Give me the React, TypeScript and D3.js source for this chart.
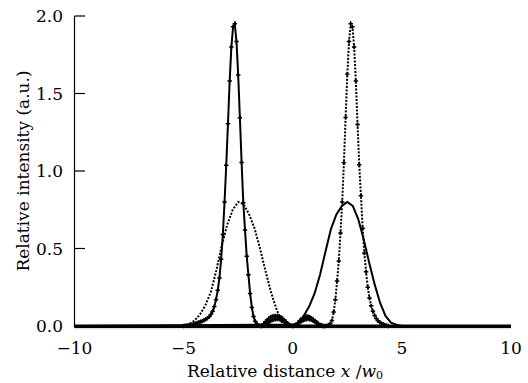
import React from "react";
import * as d3 from "d3";

// Sampling grid of the simulation: 256 steps over [-10, 10]
const X_DOMAIN: [number, number] = [-10, 10];
const GRID_STEPS = 256;
const Y_TICKS = [0, 0.5, 1.0, 1.5, 2.0];
const X_TICKS = [-10, -5, 0, 5, 10];

// Narrow beam, solid with markers (values start at grid index 64)
const narrowSolidStart = 64;
const narrowSolidValues = [
  0, 0.001, 0.002, 0.004, 0.006, 0.009, 0.012, 0.016, 0.02, 0.024,
  0.028, 0.032, 0.037, 0.043, 0.05, 0.06, 0.075, 0.095, 0.125, 0.17,
  0.23, 0.31, 0.43, 0.59, 0.8, 1.037, 1.305, 1.58, 1.8, 1.93,
  1.95, 1.835, 1.62, 1.344, 1.055, 0.795, 0.62, 0.45, 0.33, 0.21,
  0.12, 0.062, 0.03, 0.012, 0.003, 0, 0.005, 0.015, 0.027, 0.038,
  0.048, 0.056, 0.061, 0.064, 0.065, 0.064, 0.061, 0.056, 0.048, 0.038,
  0.027, 0.016, 0.007, 0.002, 0, 0.003, 0.01, 0.02, 0.032, 0.044,
  0.054, 0.06, 0.062, 0.061, 0.057, 0.05, 0.042, 0.033, 0.024, 0.015,
  0.008, 0.003, 0,
];

// Narrow beam, dotted with markers (values start at grid index 110)
const narrowDottedStart = 110;
const narrowDottedValues = [
  0, 0.003, 0.009, 0.017, 0.025, 0.032, 0.038, 0.042, 0.044, 0.045,
  0.044, 0.041, 0.036, 0.029, 0.021, 0.013, 0.006, 0.002, 0, 0.002,
  0.007, 0.014, 0.022, 0.03, 0.036, 0.041, 0.044, 0.045, 0.044, 0.04,
  0.034, 0.027, 0.019, 0.011, 0.005, 0.001, 0, 0, 0.002, 0.006,
  0.015, 0.035, 0.09, 0.17, 0.29, 0.42, 0.6, 0.8, 1.053, 1.346,
  1.625, 1.835, 1.95, 1.93, 1.8, 1.58, 1.3, 1.04, 0.84, 0.63,
  0.47, 0.35, 0.25, 0.18, 0.13, 0.095, 0.068, 0.048, 0.034, 0.024,
  0.017, 0.012, 0.007, 0.003, 0,
];

// Broad beam, dotted (no markers)
const broadDottedX = [
  -5.25, -5.0, -4.75, -4.5, -4.25, -4.0, -3.75, -3.5, -3.25, -3.0, -2.75,
  -2.5, -2.25, -2.0, -1.75, -1.5, -1.25, -1.0, -0.75, -0.5, -0.25,
];
const broadDottedY = [
  0, 0.003, 0.012, 0.035, 0.075, 0.135, 0.22, 0.36, 0.52, 0.655, 0.75,
  0.8, 0.785, 0.72, 0.63, 0.5, 0.355, 0.22, 0.11, 0.025, 0,
];

// Broad beam, solid (no markers)
const broadSolidX = [
  0.25, 0.5, 0.75, 1.0, 1.25, 1.5, 1.75, 2.0, 2.25, 2.5, 2.75,
  3.0, 3.25, 3.5, 3.75, 4.0, 4.25, 4.5, 4.75, 5.0,
];
const broadSolidY = [
  0.01, 0.065, 0.125, 0.21, 0.33, 0.48, 0.625, 0.72, 0.775, 0.8, 0.775,
  0.69, 0.56, 0.41, 0.27, 0.15, 0.065, 0.022, 0.008, 0,
];

type Pt = [number, number];

const gridSeries = (start: number, values: number[]): Pt[] =>
  values.map((v, k) => [
    X_DOMAIN[0] + ((start + k) * (X_DOMAIN[1] - X_DOMAIN[0])) / GRID_STEPS,
    v,
  ]);

const pairSeries = (xs: number[], ys: number[]): Pt[] =>
  xs.map((x, k) => [x, ys[k]]);

const withEnds = (pts: Pt[]): Pt[] => [
  [X_DOMAIN[0], 0],
  ...pts,
  [X_DOMAIN[1], 0],
];

export default function App() {
  const W = 528;
  const H = 383;
  const x = d3.scaleLinear().domain(X_DOMAIN).range([74.5, 511]);
  const y = d3.scaleLinear().domain([0, 2]).range([326, 16]);
  const line = d3
    .line<Pt>()
    .x((d) => x(d[0]))
    .y((d) => y(d[1]));

  const nSolid = gridSeries(narrowSolidStart, narrowSolidValues);
  const nDotted = gridSeries(narrowDottedStart, narrowDottedValues);
  const bDotted = pairSeries(broadDottedX, broadDottedY);
  const bSolid = pairSeries(broadSolidX, broadSolidY);

  const marker = d3.symbol().type(d3.symbolCross).size(11)() as string;
  const font = "'DejaVu Serif', serif";

  return (
    <svg
      width={W}
      height={H}
      style={{ position: "absolute", left: 0, top: 0, display: "block", background: "#fff" }}
      fontFamily={font}
    >
      {/* baseline band */}
      <line x1={x(-10)} x2={x(10)} y1={y(0) + 0.3} y2={y(0) + 0.3} stroke="#000" strokeWidth={3.4} />
      <line x1={x(-10)} x2={x(10)} y1={y(0) + 2.8} y2={y(0) + 2.8} stroke="#999" strokeWidth={0.8} strokeDasharray="1 1" />

      {/* broad beams */}
      <path d={line(withEnds(bDotted)) || ""} fill="none" stroke="#000" strokeWidth={2} strokeDasharray="2 1.5" />
      <path d={line(withEnds(bSolid)) || ""} fill="none" stroke="#000" strokeWidth={2} />

      {/* narrow beams */}
      <path d={line(withEnds(nSolid)) || ""} fill="none" stroke="#000" strokeWidth={2} />
      <path d={line(withEnds(nDotted)) || ""} fill="none" stroke="#000" strokeWidth={2} strokeDasharray="2 1.5" />
      {nSolid.map((d, i) => (
        <path key={"ms" + i} d={marker} transform={`translate(${x(d[0])},${y(d[1])})`} fill="#000" />
      ))}
      {nDotted.map((d, i) => (
        <path key={"md" + i} d={marker} transform={`translate(${x(d[0])},${y(d[1])})`} fill="#000" />
      ))}

      {/* y axis */}
      <line x1={74.5} x2={74.5} y1={y(2)} y2={y(0) + 1.5} stroke="#000" strokeWidth={1.2} />
      {Y_TICKS.map((t) => (
        <g key={"yt" + t}>
          <line x1={74.5} x2={85} y1={y(t)} y2={y(t)} stroke="#000" strokeWidth={1.2} />
          <text x={63} y={y(t) + 6} textAnchor="end" fontSize={17} fill="#000">
            {t.toFixed(1)}
          </text>
        </g>
      ))}

      {/* x tick labels */}
      {X_TICKS.map((t) => (
        <text key={"xt" + t} x={x(t)} y={354} textAnchor="middle" fontSize={17} fill="#000">
          {t < 0 ? "\u2212" + Math.abs(t) : String(t)}
        </text>
      ))}

      {/* axis titles */}
      <text x={285} y={376.5} textAnchor="middle" fontSize={17} fill="#000">
        Relative distance <tspan fontStyle="italic">x</tspan> /<tspan fontStyle="italic">w</tspan>
        <tspan fontSize={11} dy={2.5}>0</tspan>
      </text>
      <text
        transform={`translate(29,${(y(0) + y(2)) / 2}) rotate(-90)`}
        textAnchor="middle"
        fontSize={17}
        fill="#000"
      >
        Relative intensity (a.u.)
      </text>
    </svg>
  );
}
